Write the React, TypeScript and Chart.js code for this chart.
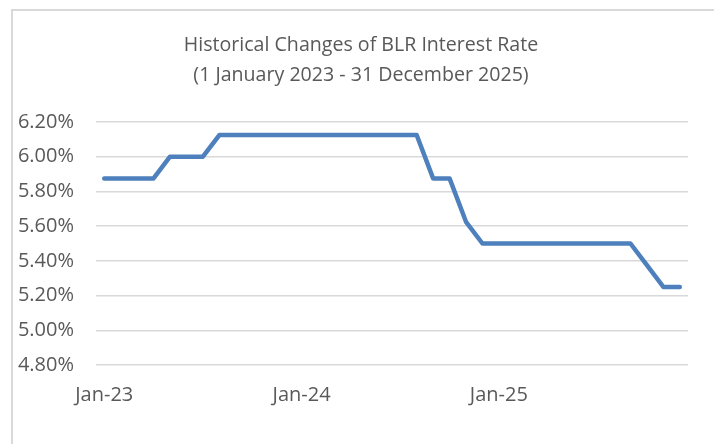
import React, { useEffect, useRef } from "react";
import { Chart, registerables } from "chart.js";

Chart.register(...registerables);

const months: string[] = [
  "Jan-23", "Feb-23", "Mar-23", "Apr-23", "May-23", "Jun-23", "Jul-23", "Aug-23", "Sep-23", "Oct-23", "Nov-23", "Dec-23",
  "Jan-24", "Feb-24", "Mar-24", "Apr-24", "May-24", "Jun-24", "Jul-24", "Aug-24", "Sep-24", "Oct-24", "Nov-24", "Dec-24",
  "Jan-25", "Feb-25", "Mar-25", "Apr-25", "May-25", "Jun-25", "Jul-25", "Aug-25", "Sep-25", "Oct-25", "Nov-25", "Dec-25",
];

const blrRate: number[] = [
  5.875, 5.875, 5.875, 5.875, 6.0, 6.0, 6.0, 6.125, 6.125, 6.125, 6.125, 6.125,
  6.125, 6.125, 6.125, 6.125, 6.125, 6.125, 6.125, 6.125, 5.875, 5.875, 5.625, 5.5,
  5.5, 5.5, 5.5, 5.5, 5.5, 5.5, 5.5, 5.5, 5.5, 5.375, 5.25, 5.25,
];

const shownTickLabels: string[] = ["Jan-23", "Jan-24", "Jan-25"];

const titleLines: string[] = [
  "Historical Changes of BLR Interest Rate",
  "(1 January 2023 - 31 December 2025)",
];

const yMin = 4.8;
const yMax = 6.2;
const yStep = 0.2;

const titlePlugin = {
  id: "centeredTitle",
  afterDraw(chart: any) {
    const ctx = chart.ctx;
    ctx.save();
    ctx.fillStyle = "#595959";
    ctx.font = "19.6px 'Open Sans'";
    ctx.textAlign = "center";
    ctx.textBaseline = "middle";
    titleLines.forEach((line, i) => ctx.fillText(line, 361, 45 + i * 30));
    ctx.restore();
  },
};

export default function App() {
  const canvasRef = useRef<HTMLCanvasElement | null>(null);

  useEffect(() => {
    if (!canvasRef.current) return;
    const chart = new Chart(canvasRef.current, {
      type: "line",
      data: {
        labels: months,
        datasets: [
          {
            label: "BLR",
            data: blrRate,
            borderColor: "#4e80bd",
            borderWidth: 4.5,
            pointRadius: 0,
            tension: 0,
            borderJoinStyle: "round",
            borderCapStyle: "round",
            fill: false,
          },
        ],
      },
      options: {
        responsive: false,
        animation: false,
        devicePixelRatio: 1,
        layout: { padding: { left: 0, right: 26, top: 122, bottom: 0 } },
        plugins: {
          legend: { display: false },
          tooltip: { enabled: false },
          title: { display: false },
        },
        scales: {
          x: {
            offset: true,
            grid: { display: false, drawTicks: false },
            border: { display: false },
            afterFit: (scale: any) => {
              scale.height = 79;
            },
            ticks: {
              autoSkip: false,
              maxRotation: 0,
              minRotation: 0,
              padding: 18,
              color: "#595959",
              font: { family: "'Open Sans'", size: 20 },
              callback: function (this: any, _v: any, i: number) {
                const lab = months[i];
                return shownTickLabels.includes(lab) ? lab : "";
              },
            },
          },
          y: {
            min: yMin,
            max: yMax,
            afterFit: (scale: any) => {
              scale.width = 96;
            },
            grid: { color: "#d9d9d9", lineWidth: 1.5, drawTicks: false },
            border: { display: false },
            ticks: {
              stepSize: yStep,
              padding: 22,
              color: "#595959",
              font: { family: "'Open Sans'", size: 20 },
              callback: (v: any) => Number(v).toFixed(2) + "%",
            },
          },
        },
      },
      plugins: [titlePlugin],
    });
    return () => chart.destroy();
  }, []);

  return (
    <div style={{ position: "absolute", left: 0, top: 0, width: 714, height: 444, overflow: "hidden", background: "#fff" }}>
      <div
        style={{
          position: "absolute",
          left: 11,
          top: 9,
          width: 760,
          height: 500,
          borderLeft: "2px solid #d9d9d9",
          borderTop: "2px solid #d9d9d9",
        }}
      />
      <canvas ref={canvasRef} width={714} height={444} style={{ position: "absolute", left: 0, top: 0, width: 714, height: 444 }} />
    </div>
  );
}
